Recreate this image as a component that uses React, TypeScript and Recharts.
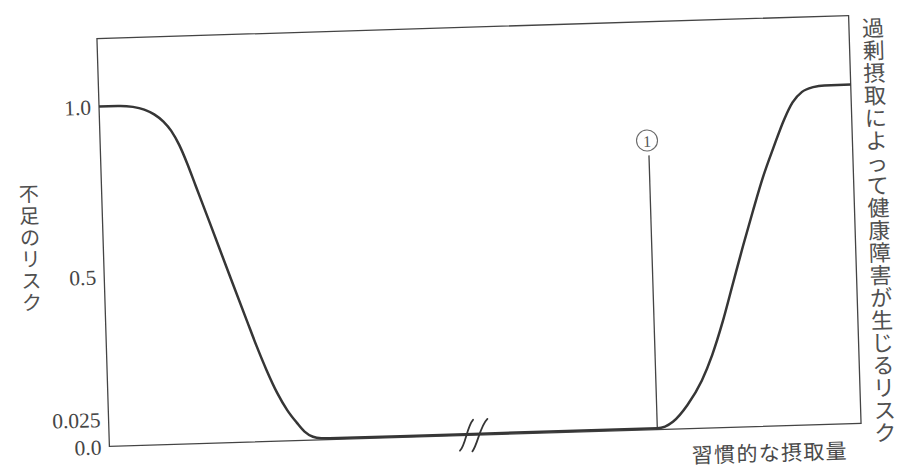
import React from 'react';
import {
  LineChart,
  Line,
  XAxis,
  YAxis,
  ReferenceArea,
  ReferenceLine,
  ReferenceDot,
  Label,
} from 'recharts';

// ---- data (schematic intake axis 0..100, risk 0..1) ----
const intakeX = [
  0, 2.5, 4.5, 6.0, 7.3, 8.5, 9.5, 10.5, 11.5, 12.5, 14.3, 16.7, 18.8, 20.0, 21.2, 22.5, 23.8, 25.0, 26.0, 27.1, 28.2, 29.3,
  48.4,
  72.9, 75.0, 77.0, 79.0, 80.5, 82.0, 83.5, 85.0, 86.5, 88.0, 89.5, 91.0, 92.2, 93.5, 95.0, 96.5, 100,
];
const riskY = [
  1.0, 1.0, 0.996, 0.987, 0.972, 0.95, 0.922, 0.88, 0.824, 0.76, 0.645, 0.49, 0.356, 0.28, 0.21, 0.143, 0.09, 0.053, 0.026, 0.01, 0.005, 0.004,
  0.004,
  0.004, 0.022, 0.07, 0.14, 0.215, 0.31, 0.42, 0.53, 0.635, 0.735, 0.82, 0.9, 0.95, 0.98, 0.993, 0.997, 0.997,
];

const yTicks = [0, 0.025, 0.5, 1.0];
const yTickLabels = ['0.0', '0.025', '0.5', '1.0'];

const leftTitle = '不足のリスク';
const rightTitle = '過剰摂取によって健康障害が生じるリスク';
const xTitle = '習慣的な摂取量';

const markerX = 72.9;
const markerTop = 0.807;
const markerBadgeY = 0.851;
const markerText = '1';
const breakX = 48.4;

const data = intakeX.map((x, i) => ({ x, risk: riskY[i] }));

const SERIF = '"Liberation Serif", "DejaVu Serif", serif';
const CJK = '"Noto Sans CJK JP", "Noto Sans", sans-serif';
const INK = '#363636';

function YTick(props: any) {
  const { x, y, payload } = props;
  const idx = yTicks.indexOf(payload.value);
  const label = idx >= 0 ? yTickLabels[idx] : String(payload.value);
  // the 0.025 label is lifted clear of 0.0, as in the source figure
  const shift = payload.value === 0.025 ? -18 : 1;
  return (
    <text x={x} y={y + shift} textAnchor="end" dominantBaseline="central" fontFamily={SERIF} fontSize={21.5} fill="#454545">
      {label}
    </text>
  );
}

function VerticalText({ cx, top, text, size, pitch, fill }: any) {
  return (
    <text textAnchor="middle" dominantBaseline="central" fontFamily={CJK} fontSize={size} fill={fill}>
      {Array.from(text as string).map((ch, i) => (
        <tspan key={i} x={cx} y={top + pitch * (i + 0.5)}>
          {ch}
        </tspan>
      ))}
    </text>
  );
}

const BreakMark = (p: any) => {
  const { cx, cy } = p;
  return (
    <g stroke={INK} strokeWidth={1.8} fill="none" strokeLinecap="round">
      <path d={`M ${cx - 13.7} ${cy + 15} C ${cx - 8} ${cy + 10}, ${cx - 6} ${cy - 9}, ${cx + 0.3} ${cy - 15.5}`} />
      <path d={`M ${cx - 1.3} ${cy + 16} C ${cx + 4} ${cy + 10}, ${cx + 7} ${cy - 9}, ${cx + 14.7} ${cy - 16}`} />
    </g>
  );
};

const MarkerBadge = (p: any) => {
  const { cx, cy } = p;
  return (
    <g>
      <circle cx={cx - 1.5} cy={cy} r={10.5} fill="#fff" stroke="#6a6a6a" strokeWidth={1.1} />
      <text x={cx - 1.5} y={cy + 1} textAnchor="middle" dominantBaseline="central" fontFamily={SERIF} fontSize={16} fill="#555">
        {markerText}
      </text>
    </g>
  );
};

export default function App() {
  return (
    <div style={{ position: 'absolute', left: 0, top: 0, width: 900, height: 468, overflow: 'hidden', background: '#fff' }}>
      <div style={{ width: 900, height: 500, transform: 'rotate(-1.75deg)', transformOrigin: '479px 231px' }}>
        <LineChart width={900} height={500} data={data} margin={{ top: 27, right: 0, bottom: 35, left: 0 }}>
          <XAxis dataKey="x" type="number" domain={[0, 100]} tick={false} axisLine={false} tickLine={false} height={30}>
            <Label
              content={(p: any) => {
                const vb = p.viewBox;
                return (
                  <text
                    x={vb.x + vb.width - 14}
                    y={vb.y + 25.5}
                    textAnchor="end"
                    dominantBaseline="central"
                    fontFamily={CJK}
                    fontSize={21}
                    letterSpacing={1.3}
                    fill="#4a4a4a"
                  >
                    {xTitle}
                  </text>
                );
              }}
            />
          </XAxis>
          <YAxis
            type="number"
            domain={[0, 1.2]}
            ticks={yTicks}
            tick={<YTick />}
            axisLine={false}
            tickLine={false}
            width={103}
            interval={0}
          >
            <Label
              content={(p: any) => {
                const vb = p.viewBox;
                const pitch = 21.7;
                const top = vb.y + vb.height / 2 - (leftTitle.length * pitch) / 2 + 2;
                return <VerticalText cx={vb.x + 30} top={top} text={leftTitle} size={20} pitch={pitch} fill="#505050" />;
              }}
            />
          </YAxis>
          <YAxis
            yAxisId="r"
            orientation="right"
            type="number"
            domain={[0, 1.2]}
            tick={false}
            axisLine={false}
            tickLine={false}
            width={45}
          >
            <Label
              content={(p: any) => {
                const vb = p.viewBox;
                return <VerticalText cx={vb.x + 24} top={vb.y} text={rightTitle} size={22} pitch={22.5} fill="#505050" />;
              }}
            />
          </YAxis>
          <ReferenceArea x1={0} x2={100} y1={0} y2={1.2} fill="none" stroke="#444" strokeWidth={1.3} ifOverflow="visible" />
          <ReferenceLine
            segment={[
              { x: markerX, y: 0 },
              { x: markerX, y: markerTop },
            ]}
            stroke="#444"
            strokeWidth={1.3}
          />
          <Line
            type="monotone"
            dataKey="risk"
            stroke={INK}
            strokeWidth={2.5}
            dot={false}
            activeDot={false}
            isAnimationActive={false}
          />
          <ReferenceDot x={breakX} y={0} r={0} shape={BreakMark} ifOverflow="visible" />
          <ReferenceDot x={markerX} y={markerBadgeY} r={0} shape={MarkerBadge} ifOverflow="visible" />
        </LineChart>
      </div>
    </div>
  );
}
